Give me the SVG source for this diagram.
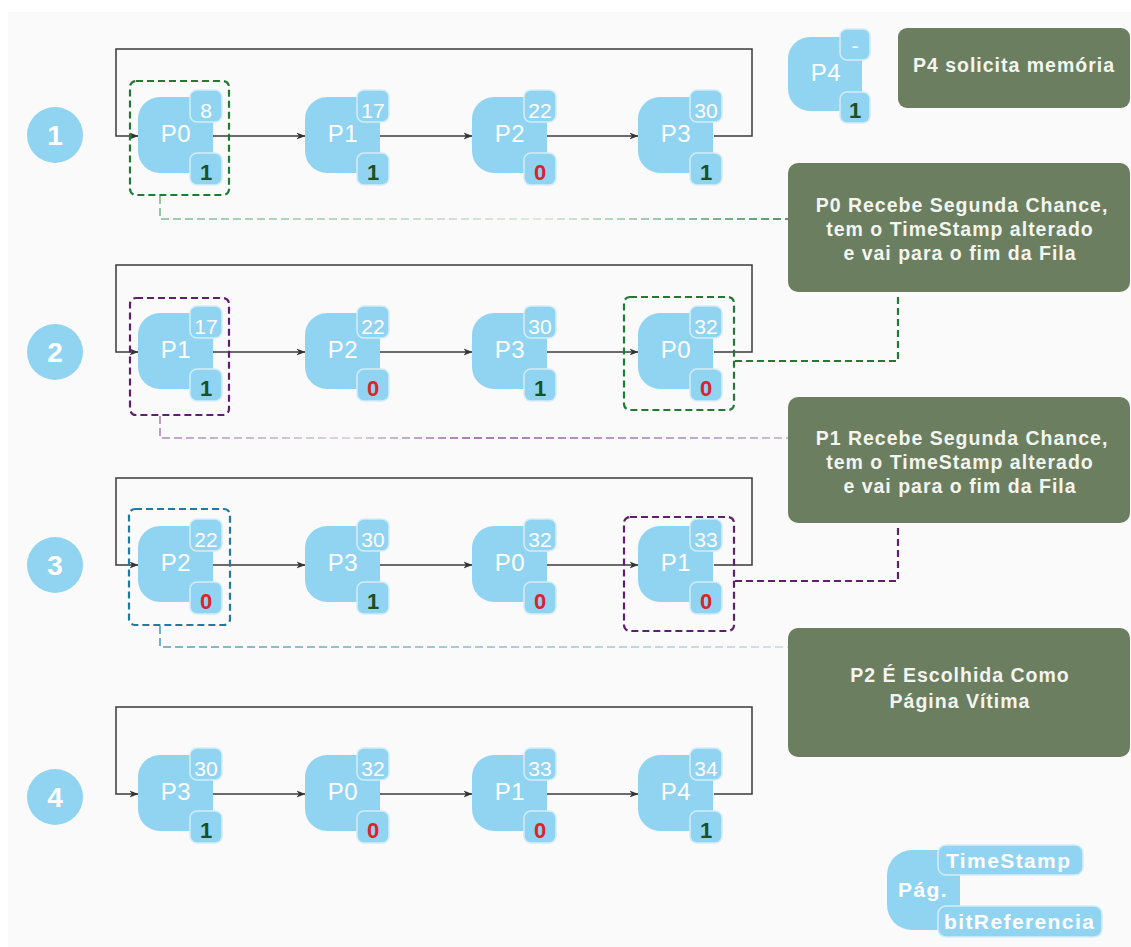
<svg xmlns="http://www.w3.org/2000/svg" width="1131" height="947" viewBox="0 0 1131 947">
  <defs>
    <style>
      .body { fill: #91d4f2; }
      .badge { fill: #91d4f2; stroke: #d3edf8; stroke-width: 1.5; }
      .lbl { font-family: "Liberation Sans", Arial, sans-serif; font-size: 24px; fill: #ffffff; text-anchor: middle; letter-spacing: 0.5px; }
      .ts { font-family: "Liberation Sans", Arial, sans-serif; font-size: 21px; fill: #ffffff; text-anchor: middle; }
      .bit { font-family: "Liberation Sans", Arial, sans-serif; font-size: 22px; font-weight: bold; text-anchor: middle; }
      .b1 { fill: #1b4f24; }
      .b0 { fill: #d8242c; }
      .step { fill: #91d4f2; }
      .stepnum { font-family: "Liberation Sans", Arial, sans-serif; font-size: 28px; font-weight: bold; fill: #ffffff; text-anchor: middle; }
      .link { fill: none; stroke: #3a3a3a; stroke-width: 1.5; }
      .arrow { marker-end: url(#head); }
      .note { fill: #6b7f60; }
      .notetxt { font-family: "Liberation Sans", Arial, sans-serif; font-size: 19.5px; font-weight: bold; fill: #f4f4f0; text-anchor: middle; letter-spacing: 1px; }
      .hl { fill: none; stroke-width: 2.2; stroke-dasharray: 7 4; }
      .green { stroke: #1f7a35; }
      .purple { stroke: #5f1f6e; }
      .blue { stroke: #1d7ca4; }
      .lead { fill: none; stroke-width: 1.6; stroke-dasharray: 8 4; }
      .legtxt { font-family: "Liberation Sans", Arial, sans-serif; font-size: 21px; font-weight: bold; fill: #ffffff; letter-spacing: 1.4px; }
    </style>
    <marker id="head" viewBox="0 0 9 8" refX="8.5" refY="4" markerWidth="9" markerHeight="8" markerUnits="userSpaceOnUse" orient="auto">
      <path d="M0,0.5 L9,4 L0,7.5 L2.5,4 Z" fill="#333333"/>
    </marker>
    <linearGradient id="fadeGreen" gradientUnits="userSpaceOnUse" x1="160" y1="0" x2="788" y2="0">
      <stop offset="0" stop-color="#2e8b50" stop-opacity="0.6"/>
      <stop offset="0.6" stop-color="#2e8b50" stop-opacity="0.2"/>
      <stop offset="1" stop-color="#1f7a35" stop-opacity="1"/>
    </linearGradient>
    <linearGradient id="fadePurple" gradientUnits="userSpaceOnUse" x1="160" y1="0" x2="788" y2="0">
      <stop offset="0" stop-color="#6a2a7a" stop-opacity="0.55"/>
      <stop offset="0.3" stop-color="#6a2a7a" stop-opacity="0.25"/>
      <stop offset="0.5" stop-color="#6a2a7a" stop-opacity="0.8"/>
      <stop offset="1" stop-color="#6a2a7a" stop-opacity="0.4"/>
    </linearGradient>
    <linearGradient id="fadeBlue" gradientUnits="userSpaceOnUse" x1="160" y1="0" x2="788" y2="0">
      <stop offset="0" stop-color="#1d7ca4" stop-opacity="0.75"/>
      <stop offset="1" stop-color="#1d7ca4" stop-opacity="0.25"/>
    </linearGradient>
  </defs>

  <!-- canvas -->
  <rect x="0" y="0" width="1131" height="947" fill="#ffffff"/>
  <rect x="8" y="12" width="1123" height="935" fill="#fafafa"/>

  <!-- step markers -->
  <g id="step1"><circle class="step" cx="55" cy="135" r="28"/><text class="stepnum" x="55" y="145">1</text></g>
  <g id="step2"><circle class="step" cx="55" cy="352" r="28"/><text class="stepnum" x="55" y="362">2</text></g>
  <g id="step3"><circle class="step" cx="55" cy="565" r="28"/><text class="stepnum" x="55" y="575">3</text></g>
  <g id="step4"><circle class="step" cx="55" cy="797" r="28"/><text class="stepnum" x="55" y="807">4</text></g>

  <!-- queue links and feedback loops -->
  <g id="connectors">
    <!-- row 1 -->
    <path class="link" d="M714,136 H752 V49 H116 V136 H138" marker-end="url(#head)"/>
    <path class="link arrow" d="M213,136 H305"/>
    <path class="link arrow" d="M380,136 H472"/>
    <path class="link arrow" d="M547,136 H638"/>
    <!-- row 2 -->
    <path class="link" d="M714,352 H752 V265 H116 V352 H138" marker-end="url(#head)"/>
    <path class="link arrow" d="M213,352 H305"/>
    <path class="link arrow" d="M380,352 H472"/>
    <path class="link arrow" d="M547,352 H638"/>
    <!-- row 3 -->
    <path class="link" d="M714,565 H752 V478 H116 V565 H138" marker-end="url(#head)"/>
    <path class="link arrow" d="M213,565 H305"/>
    <path class="link arrow" d="M380,565 H472"/>
    <path class="link arrow" d="M547,565 H638"/>
    <!-- row 4 -->
    <path class="link" d="M714,794 H752 V707 H116 V794 H138" marker-end="url(#head)"/>
    <path class="link arrow" d="M213,794 H305"/>
    <path class="link arrow" d="M380,794 H472"/>
    <path class="link arrow" d="M547,794 H638"/>

    <!-- leader lines to the notes -->
    <path class="lead" stroke="url(#fadeGreen)" d="M160,196 V219 H788"/>
    <path class="lead" stroke="url(#fadePurple)" d="M160,416 V438 H788"/>
    <path class="lead" stroke="url(#fadeBlue)" d="M160,626 V647 H788"/>
    <path class="hl green" d="M735,361 H898 V293"/>
    <path class="hl purple" d="M735,581 H898 V525"/>
  </g>

  <!-- highlight frames -->
  <g id="highlights">
    <rect class="hl green" x="130" y="81" width="99" height="114" rx="6"/>
    <rect class="hl purple" x="130" y="298" width="99" height="117" rx="6"/>
    <rect class="hl green" x="624" y="297" width="110" height="113" rx="6"/>
    <rect class="hl blue" x="129" y="509" width="101" height="116" rx="6"/>
    <rect class="hl purple" x="624" y="517" width="110" height="114" rx="6"/>
  </g>

  <!-- row 1 -->
  <g id="r1-p0" transform="translate(138,136)">
    <path class="body" d="M22,-39 H75 V37 H22 A22,22 0 0 1 0,15 V-17 A22,22 0 0 1 22,-39 Z"/>
    <rect class="badge" x="52" y="-46" width="32" height="32" rx="7"/>
    <rect class="badge" x="52" y="17" width="32" height="32" rx="7"/>
    <text class="lbl" x="38" y="6">P0</text><text class="ts" x="68" y="-18">8</text><text class="bit b1" x="68" y="44">1</text>
  </g>
  <g id="r1-p1" transform="translate(305,136)">
    <path class="body" d="M22,-39 H75 V37 H22 A22,22 0 0 1 0,15 V-17 A22,22 0 0 1 22,-39 Z"/>
    <rect class="badge" x="52" y="-46" width="32" height="32" rx="7"/>
    <rect class="badge" x="52" y="17" width="32" height="32" rx="7"/>
    <text class="lbl" x="38" y="6">P1</text><text class="ts" x="68" y="-18">17</text><text class="bit b1" x="68" y="44">1</text>
  </g>
  <g id="r1-p2" transform="translate(472,136)">
    <path class="body" d="M22,-39 H75 V37 H22 A22,22 0 0 1 0,15 V-17 A22,22 0 0 1 22,-39 Z"/>
    <rect class="badge" x="52" y="-46" width="32" height="32" rx="7"/>
    <rect class="badge" x="52" y="17" width="32" height="32" rx="7"/>
    <text class="lbl" x="38" y="6">P2</text><text class="ts" x="68" y="-18">22</text><text class="bit b0" x="68" y="44">0</text>
  </g>
  <g id="r1-p3" transform="translate(638,136)">
    <path class="body" d="M22,-39 H75 V37 H22 A22,22 0 0 1 0,15 V-17 A22,22 0 0 1 22,-39 Z"/>
    <rect class="badge" x="52" y="-46" width="32" height="32" rx="7"/>
    <rect class="badge" x="52" y="17" width="32" height="32" rx="7"/>
    <text class="lbl" x="38" y="6">P3</text><text class="ts" x="68" y="-18">30</text><text class="bit b1" x="68" y="44">1</text>
  </g>

  <!-- row 2 -->
  <g id="r2-p1" transform="translate(138,352)">
    <path class="body" d="M22,-39 H75 V37 H22 A22,22 0 0 1 0,15 V-17 A22,22 0 0 1 22,-39 Z"/>
    <rect class="badge" x="52" y="-46" width="32" height="32" rx="7"/>
    <rect class="badge" x="52" y="17" width="32" height="32" rx="7"/>
    <text class="lbl" x="38" y="6">P1</text><text class="ts" x="68" y="-18">17</text><text class="bit b1" x="68" y="44">1</text>
  </g>
  <g id="r2-p2" transform="translate(305,352)">
    <path class="body" d="M22,-39 H75 V37 H22 A22,22 0 0 1 0,15 V-17 A22,22 0 0 1 22,-39 Z"/>
    <rect class="badge" x="52" y="-46" width="32" height="32" rx="7"/>
    <rect class="badge" x="52" y="17" width="32" height="32" rx="7"/>
    <text class="lbl" x="38" y="6">P2</text><text class="ts" x="68" y="-18">22</text><text class="bit b0" x="68" y="44">0</text>
  </g>
  <g id="r2-p3" transform="translate(472,352)">
    <path class="body" d="M22,-39 H75 V37 H22 A22,22 0 0 1 0,15 V-17 A22,22 0 0 1 22,-39 Z"/>
    <rect class="badge" x="52" y="-46" width="32" height="32" rx="7"/>
    <rect class="badge" x="52" y="17" width="32" height="32" rx="7"/>
    <text class="lbl" x="38" y="6">P3</text><text class="ts" x="68" y="-18">30</text><text class="bit b1" x="68" y="44">1</text>
  </g>
  <g id="r2-p0" transform="translate(638,352)">
    <path class="body" d="M22,-39 H75 V37 H22 A22,22 0 0 1 0,15 V-17 A22,22 0 0 1 22,-39 Z"/>
    <rect class="badge" x="52" y="-46" width="32" height="32" rx="7"/>
    <rect class="badge" x="52" y="17" width="32" height="32" rx="7"/>
    <text class="lbl" x="38" y="6">P0</text><text class="ts" x="68" y="-18">32</text><text class="bit b0" x="68" y="44">0</text>
  </g>

  <!-- row 3 -->
  <g id="r3-p2" transform="translate(138,565)">
    <path class="body" d="M22,-39 H75 V37 H22 A22,22 0 0 1 0,15 V-17 A22,22 0 0 1 22,-39 Z"/>
    <rect class="badge" x="52" y="-46" width="32" height="32" rx="7"/>
    <rect class="badge" x="52" y="17" width="32" height="32" rx="7"/>
    <text class="lbl" x="38" y="6">P2</text><text class="ts" x="68" y="-18">22</text><text class="bit b0" x="68" y="44">0</text>
  </g>
  <g id="r3-p3" transform="translate(305,565)">
    <path class="body" d="M22,-39 H75 V37 H22 A22,22 0 0 1 0,15 V-17 A22,22 0 0 1 22,-39 Z"/>
    <rect class="badge" x="52" y="-46" width="32" height="32" rx="7"/>
    <rect class="badge" x="52" y="17" width="32" height="32" rx="7"/>
    <text class="lbl" x="38" y="6">P3</text><text class="ts" x="68" y="-18">30</text><text class="bit b1" x="68" y="44">1</text>
  </g>
  <g id="r3-p0" transform="translate(472,565)">
    <path class="body" d="M22,-39 H75 V37 H22 A22,22 0 0 1 0,15 V-17 A22,22 0 0 1 22,-39 Z"/>
    <rect class="badge" x="52" y="-46" width="32" height="32" rx="7"/>
    <rect class="badge" x="52" y="17" width="32" height="32" rx="7"/>
    <text class="lbl" x="38" y="6">P0</text><text class="ts" x="68" y="-18">32</text><text class="bit b0" x="68" y="44">0</text>
  </g>
  <g id="r3-p1" transform="translate(638,565)">
    <path class="body" d="M22,-39 H75 V37 H22 A22,22 0 0 1 0,15 V-17 A22,22 0 0 1 22,-39 Z"/>
    <rect class="badge" x="52" y="-46" width="32" height="32" rx="7"/>
    <rect class="badge" x="52" y="17" width="32" height="32" rx="7"/>
    <text class="lbl" x="38" y="6">P1</text><text class="ts" x="68" y="-18">33</text><text class="bit b0" x="68" y="44">0</text>
  </g>

  <!-- row 4 -->
  <g id="r4-p3" transform="translate(138,794)">
    <path class="body" d="M22,-39 H75 V37 H22 A22,22 0 0 1 0,15 V-17 A22,22 0 0 1 22,-39 Z"/>
    <rect class="badge" x="52" y="-46" width="32" height="32" rx="7"/>
    <rect class="badge" x="52" y="17" width="32" height="32" rx="7"/>
    <text class="lbl" x="38" y="6">P3</text><text class="ts" x="68" y="-18">30</text><text class="bit b1" x="68" y="44">1</text>
  </g>
  <g id="r4-p0" transform="translate(305,794)">
    <path class="body" d="M22,-39 H75 V37 H22 A22,22 0 0 1 0,15 V-17 A22,22 0 0 1 22,-39 Z"/>
    <rect class="badge" x="52" y="-46" width="32" height="32" rx="7"/>
    <rect class="badge" x="52" y="17" width="32" height="32" rx="7"/>
    <text class="lbl" x="38" y="6">P0</text><text class="ts" x="68" y="-18">32</text><text class="bit b0" x="68" y="44">0</text>
  </g>
  <g id="r4-p1" transform="translate(472,794)">
    <path class="body" d="M22,-39 H75 V37 H22 A22,22 0 0 1 0,15 V-17 A22,22 0 0 1 22,-39 Z"/>
    <rect class="badge" x="52" y="-46" width="32" height="32" rx="7"/>
    <rect class="badge" x="52" y="17" width="32" height="32" rx="7"/>
    <text class="lbl" x="38" y="6">P1</text><text class="ts" x="68" y="-18">33</text><text class="bit b0" x="68" y="44">0</text>
  </g>
  <g id="r4-p4" transform="translate(638,794)">
    <path class="body" d="M22,-39 H75 V37 H22 A22,22 0 0 1 0,15 V-17 A22,22 0 0 1 22,-39 Z"/>
    <rect class="badge" x="52" y="-46" width="32" height="32" rx="7"/>
    <rect class="badge" x="52" y="17" width="32" height="32" rx="7"/>
    <text class="lbl" x="38" y="6">P4</text><text class="ts" x="68" y="-18">34</text><text class="bit b1" x="68" y="44">1</text>
  </g>

  <!-- incoming page -->
  <g id="p4-new" transform="translate(788,75)">
    <path class="body" d="M22,-38 H74 V36 H22 A22,22 0 0 1 0,14 V-16 A22,22 0 0 1 22,-38 Z"/>
    <rect class="badge" x="52" y="-46" width="30" height="31" rx="7"/>
    <rect class="badge" x="52" y="17" width="30" height="31" rx="7"/>
    <text class="lbl" x="38" y="6">P4</text><text class="ts" x="67" y="-22">-</text><text class="bit b1" x="67" y="43">1</text>
  </g>

  <!-- notes -->
  <g id="note-request">
    <rect class="note" x="898" y="28" width="232" height="80" rx="9"/>
    <text class="notetxt" x="1014" y="72">P4 solicita memória</text>
  </g>
  <g id="note-p0">
    <rect class="note" x="788" y="163" width="342" height="129" rx="10"/>
    <text class="notetxt" x="962" y="212">P0 Recebe Segunda Chance,</text>
    <text class="notetxt" x="960" y="236">tem o TimeStamp alterado</text>
    <text class="notetxt" x="960" y="260">e vai para o fim da Fila</text>
  </g>
  <g id="note-p1">
    <rect class="note" x="788" y="397" width="342" height="126" rx="10"/>
    <text class="notetxt" x="962" y="445">P1 Recebe Segunda Chance,</text>
    <text class="notetxt" x="960" y="469">tem o TimeStamp alterado</text>
    <text class="notetxt" x="960" y="493">e vai para o fim da Fila</text>
  </g>
  <g id="note-victim">
    <rect class="note" x="788" y="628" width="342" height="129" rx="10"/>
    <text class="notetxt" x="960" y="682">P2 É Escolhida Como</text>
    <text class="notetxt" x="960" y="708">Página Vítima</text>
  </g>

  <!-- legend -->
  <g id="legend">
    <path class="body" d="M912,850 H960 V930 H912 A25,25 0 0 1 887,905 V875 A25,25 0 0 1 912,850 Z"/>
    <rect class="badge" x="938" y="845" width="145" height="30" rx="8"/>
    <rect class="badge" x="938" y="906" width="164" height="31" rx="8"/>
    <text class="legtxt" x="923" y="897" text-anchor="middle" letter-spacing="0.5">Pág.</text>
    <text class="legtxt" x="946" y="868">TimeStamp</text>
    <text class="legtxt" x="944" y="929">bitReferencia</text>
  </g>
</svg>
